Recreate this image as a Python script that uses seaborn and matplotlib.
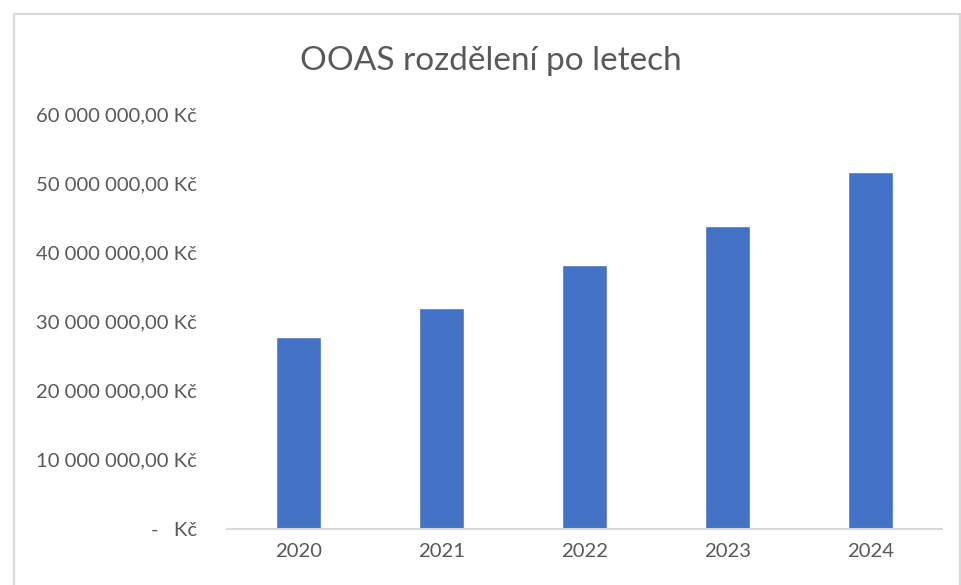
import matplotlib
matplotlib.use("Agg")
import matplotlib.pyplot as plt
import matplotlib.patches as mpatches
from matplotlib.ticker import FuncFormatter, MultipleLocator
import pandas as pd
import seaborn as sns

# data
years = ["2020", "2021", "2022", "2023", "2024"]
amounts = [27_700_000, 31_900_000, 38_100_000, 43_800_000, 51_600_000]

df = pd.DataFrame({"Rok": years, "Částka": amounts})

sns.set_theme(style="white")
plt.rcParams['font.family'] = ['Lato', 'DejaVu Sans']

fig = plt.figure(figsize=(9.62, 5.85), dpi=100)
ax = fig.add_axes([227 / 962, 56 / 585, 715 / 962, 415 / 585])

sns.barplot(data=df, x="Rok", y="Částka", color="#4472C4", width=0.315,
            saturation=1, ax=ax)

ax.set_xlim(-0.5, 4.5)
ax.set_ylim(0, 60_000_000)
ax.yaxis.set_major_locator(MultipleLocator(10_000_000))


def kc(v, pos):
    if v == 0:
        return "-   Kč"
    return f"{v:,.2f}".replace(",", " ").replace(".", ",") + " Kč"


ax.yaxis.set_major_formatter(FuncFormatter(kc))
ax.tick_params(axis="y", length=0, pad=21.5, labelsize=14.6, labelcolor="#595959")
ax.tick_params(axis="x", length=0, pad=10, labelsize=14.6, labelcolor="#595959")
ax.set_xlabel("")
ax.set_ylabel("")

for side in ["top", "left", "right"]:
    ax.spines[side].set_visible(False)
ax.spines["bottom"].set_color("#D9D9D9")
ax.spines["bottom"].set_linewidth(1.5)

fig.text(491 / 962, 1 - 61 / 585, "OOAS rozdělení po letech", ha="center",
         va="center", fontsize=24, color="#595959")

# light chart border like an Excel chart area
border = mpatches.Rectangle((14 / 962, -0.1), 946 / 962, 1.1 - 14 / 585,
                            transform=fig.transFigure, fill=False,
                            edgecolor="#D9D9D9", linewidth=1.5)
fig.patches.append(border)

plt.savefig("out.png", dpi=100, facecolor="white")
